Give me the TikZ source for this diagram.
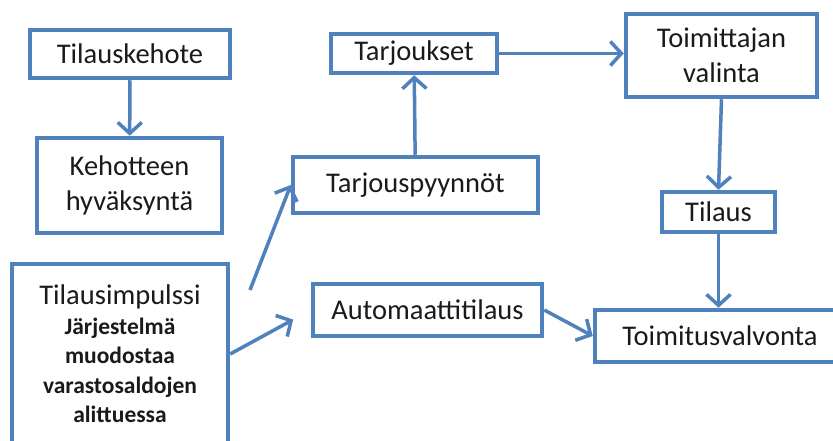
\documentclass[tikz,border=0pt]{standalone}
\usepackage{fontspec}
\setmainfont{Carlito}
\usepackage{tikz}
\usetikzlibrary{arrows.meta,calc}
\definecolor{officeblue}{HTML}{4F81BD}
\definecolor{tekstimusta}{HTML}{1A1A1A}
\newcommand{\tummarivi}{\bfseries\fontsize{23.5}{29}\selectfont}
\tikzset{
  laatikko/.style={draw=officeblue, line width=4.5pt, fill=white, text=tekstimusta,
    align=center, inner sep=2pt, font=\fontsize{28.5}{35}\selectfont},
  nuoli/.style={draw=officeblue, line width=3.5pt,
    -{Straight Barb[length=11pt,width=24pt,line width=3.5pt]}}
}

\begin{document}
\begin{tikzpicture}[x=1pt,y=-1pt]
\useasboundingbox (0,0) rectangle (833,441);
\fill[white] (0,0) rectangle (833,441);
\clip (0,0) rectangle (833,441);

\node[laatikko, minimum width=200pt, minimum height=48pt] (tilauskehote) at (130,54) {Tilauskehote};
\node[laatikko, minimum width=185pt, minimum height=95pt] (hyvaksynta) at (129.5,185.5) {Kehotteen\\hyväksyntä};
\node[laatikko, minimum width=216pt, minimum height=180pt, font=\fontsize{28.5}{29.5}\selectfont] (impulssi) at (120,354)
  {Tilausimpulssi\\\tummarivi Järjestelmä\\\tummarivi muodostaa\\\tummarivi varastosaldojen\\\tummarivi alittuessa};
\node[laatikko, minimum width=166pt, minimum height=39pt] (tarjoukset) at (414,53.5) {Tarjoukset};
\node[laatikko, minimum width=245pt, minimum height=56pt] (tarjouspyynnot) at (415.5,185) {Tarjouspyynnöt};
\node[laatikko, minimum width=229pt, minimum height=52pt] (automaatti) at (427.5,310) {Automaattitilaus};
\node[laatikko, minimum width=191pt, minimum height=83pt] (valinta) at (721.5,55.5) {Toimittajan\\valinta};
\node[laatikko, minimum width=113pt, minimum height=40pt] (tilaus) at (718.5,212) {Tilaus};
\node[laatikko, minimum width=250pt, minimum height=52pt] (valvonta) at (720,336) {Toimitusvalvonta};

\coordinate (impulssiyla) at (250,290);

\draw[nuoli] (tilauskehote) -- (hyvaksynta);
\draw[nuoli] (tarjouspyynnot) -- (tarjoukset);
\draw[nuoli] (tarjoukset.east) -- (valinta.west |- tarjoukset.east);
\draw[nuoli] (valinta.south) -- (tilaus.north);
\draw[nuoli] (tilaus.south) -- (tilaus.south |- valvonta.north);
\draw[nuoli] (automaatti.east) -- (valvonta.west);
\draw[nuoli, shorten >=20pt] (impulssi.east) -- (automaatti.west);
\draw[nuoli] (impulssiyla) -- (tarjouspyynnot.west);
\end{tikzpicture}
\end{document}
